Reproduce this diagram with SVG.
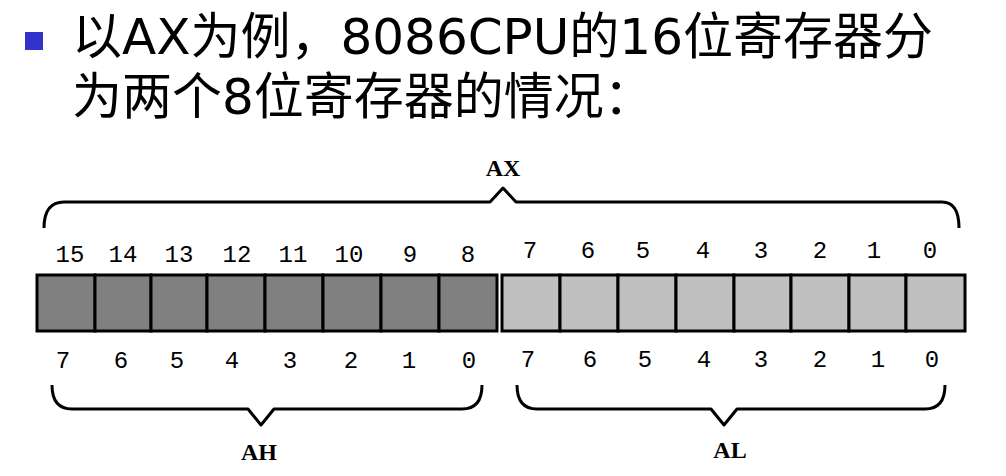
<svg xmlns="http://www.w3.org/2000/svg" width="1006" height="476" viewBox="0 0 1006 476">
<style>
.t{font-family:"DejaVu Sans","Noto Sans CJK SC",sans-serif;font-size:50px;fill:#000}
.n{font-family:"Liberation Mono","DejaVu Sans Mono",monospace;font-size:24px;fill:#000;text-anchor:middle}
.lb{font-family:"Liberation Serif",serif;font-size:24px;font-weight:bold;fill:#000;text-anchor:middle}
.h{fill:#808080;stroke:#000;stroke-width:3}
.l{fill:#c0c0c0;stroke:#000;stroke-width:3}
.br{fill:none;stroke:#000;stroke-width:3;stroke-linejoin:round}
</style>
<rect width="1006" height="476" fill="#fff"/>
<g id="title">
<rect x="25" y="32" width="18" height="18" fill="#3333cc"/>
<text class="t" x="72" y="54">以AX为例，8086CPU的16位寄存器分</text>
<text class="t" x="72" y="114">为两个8位寄存器的情况：</text>
</g>
<g id="AH">
<rect class="h" x="37" y="275" width="58" height="56"/>
<rect class="h" x="95" y="275" width="56" height="56"/>
<rect class="h" x="151" y="275" width="56" height="56"/>
<rect class="h" x="207" y="275" width="58" height="56"/>
<rect class="h" x="265" y="275" width="58" height="56"/>
<rect class="h" x="323" y="275" width="58" height="56"/>
<rect class="h" x="381" y="275" width="58" height="56"/>
<rect class="h" x="439" y="275" width="58" height="56"/>
</g>
<g id="AL">
<rect class="l" x="502" y="275" width="58" height="56"/>
<rect class="l" x="560" y="275" width="58" height="56"/>
<rect class="l" x="618" y="275" width="58" height="56"/>
<rect class="l" x="676" y="275" width="58" height="56"/>
<rect class="l" x="734" y="275" width="57" height="56"/>
<rect class="l" x="791" y="275" width="58" height="56"/>
<rect class="l" x="849" y="275" width="57" height="56"/>
<rect class="l" x="906" y="275" width="59" height="56"/>
</g>
<g id="numbers">
<text class="n" x="70" y="262">15</text><text class="n" x="123" y="262">14</text><text class="n" x="179" y="262">13</text><text class="n" x="237" y="262">12</text><text class="n" x="293" y="262">11</text><text class="n" x="349" y="262">10</text><text class="n" x="410" y="262">9</text><text class="n" x="468" y="262">8</text>
<text class="n" x="530" y="258">7</text><text class="n" x="588" y="258">6</text><text class="n" x="643" y="258">5</text><text class="n" x="703" y="258">4</text><text class="n" x="761" y="258">3</text><text class="n" x="820" y="258">2</text><text class="n" x="874" y="258">1</text><text class="n" x="930" y="258">0</text>
<text class="n" x="63" y="368">7</text><text class="n" x="121" y="368">6</text><text class="n" x="177" y="368">5</text><text class="n" x="232" y="368">4</text><text class="n" x="290" y="368">3</text><text class="n" x="351" y="368">2</text><text class="n" x="409" y="368">1</text><text class="n" x="469" y="368">0</text>
<text class="n" x="528" y="367">7</text><text class="n" x="590" y="367">6</text><text class="n" x="645" y="367">5</text><text class="n" x="704" y="367">4</text><text class="n" x="761" y="367">3</text><text class="n" x="820" y="367">2</text><text class="n" x="878" y="367">1</text><text class="n" x="932" y="367">0</text>
</g>
<g id="connectors">
<path class="br" d="M44,228 Q44,202 64,202 L490,202 L503,188 L516,202 L942,202 Q959,202 959,228"/>
<path class="br" d="M52,385 Q52,409 72,409 L248,409 L261,425 L274,409 L462,409 Q482,409 482,385"/>
<path class="br" d="M517,385 Q517,409 537,409 L711,409 L724,425 L737,409 L925,409 Q945,409 945,385"/>
</g>
<g id="labels">
<text class="lb" x="503" y="176">AX</text>
<text class="lb" x="259" y="460">AH</text>
<text class="lb" x="730" y="458">AL</text>
</g>
</svg>
